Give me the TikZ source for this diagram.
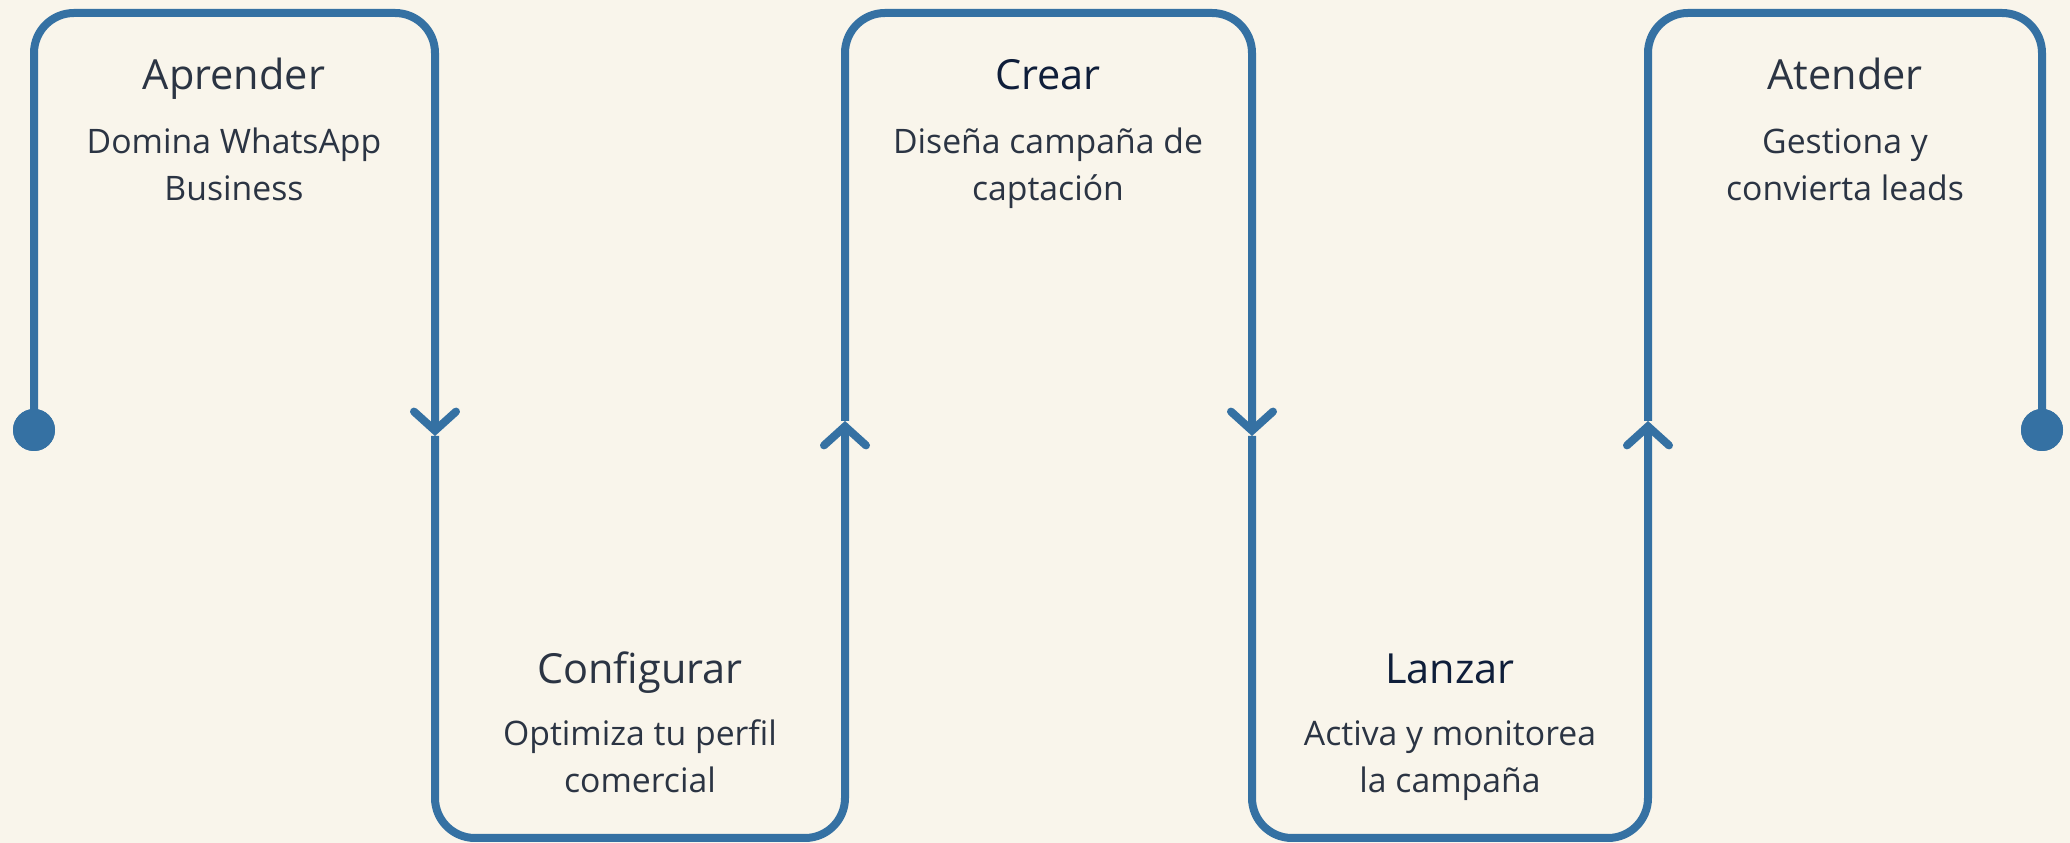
\documentclass[tikz,border=0pt]{standalone}
\usepackage{fontspec}
\setmainfont{Open Sans}
\usetikzlibrary{arrows.meta}

\definecolor{paper}{HTML}{F9F5EB}
\definecolor{flowblue}{HTML}{3571A3}
\definecolor{inkA}{HTML}{2B3443}
\definecolor{inkB}{HTML}{0F1E3A}

\newcommand{\twolines}[2]{\begin{tabular}[t]{@{}c@{}}#1\\#2\end{tabular}}

\tikzset{
  flow/.style={draw=flowblue, line width=0.8mm, rounded corners=4mm},
  barb/.style={-{Straight Barb[length=1.9mm,width=4.2mm,line cap=round]}},
  dot/.style={circle, fill=flowblue, minimum size=4.2mm, inner sep=0pt},
  steptitle/.style={font=\fontsize{11.8}{13}\selectfont, text=inkA, anchor=base, inner sep=0pt},
  stepnote/.style={font=\fontsize{9.6}{13.1}\selectfont, text=inkA, anchor=base, inner sep=0pt}
}

\begin{document}
\begin{tikzpicture}[x=0.1mm,y=-0.1mm]
\fill[paper] (0,0) rectangle (2070,843);
\useasboundingbox (0,0) rectangle (2070,843);

\node[dot] (start) at (34,430) {};
\node[dot] (stop) at (2042,430) {};
\coordinate (tA) at (435,13);
\coordinate (m1) at (435,436);
\coordinate (bB) at (845,838);
\coordinate (m2) at (845,421);
\coordinate (tC) at (1252,13);
\coordinate (m3) at (1252,436);
\coordinate (bD) at (1648,838);
\coordinate (m4) at (1648,421);
\coordinate (tE) at (2042,13);

% serpentine line
\draw[flow,barb] (start.center) |- (tA) -- (m1);
\draw[flow,barb] (m1) |- (bB) -- (m2);
\draw[flow,barb] (m2) |- (tC) -- (m3);
\draw[flow,barb] (m3) |- (bD) -- (m4);
\draw[flow] (m4) |- (tE) -- (stop.center);
\node[dot] at (start) {};
\node[dot] at (stop) {};

% steps
\node[steptitle] (aprender) at (234,90) {Aprender};
\node[stepnote] (aprendernote) at (234,154) {\twolines{Domina WhatsApp}{Business}};
\node[steptitle] (configurar) at (640,684) {Configurar};
\node[stepnote] (configurarnote) at (640,746) {\twolines{Optimiza tu perfil}{comercial}};
\node[steptitle, text=inkB] (crear) at (1048,90) {Crear};
\node[stepnote] (crearnote) at (1048,154) {\twolines{Diseña campaña de}{captación}};
\node[steptitle, text=inkB] (lanzar) at (1450,684) {Lanzar};
\node[stepnote] (lanzarnote) at (1450,746) {\twolines{Activa y monitorea}{la campaña}};
\node[steptitle] (atender) at (1845,90) {Atender};
\node[stepnote] (atendernote) at (1845,154) {\twolines{Gestiona y}{convierta leads}};
\end{tikzpicture}
\end{document}
